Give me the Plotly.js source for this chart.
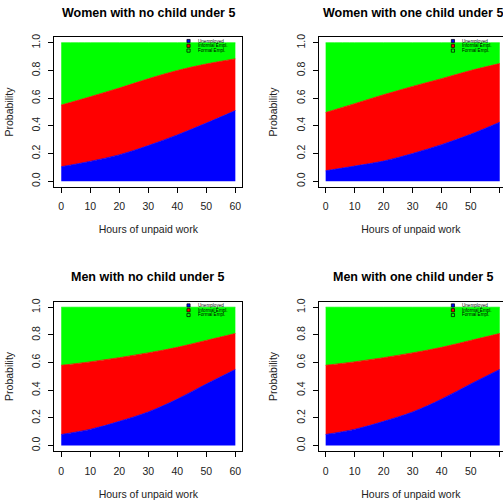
<!DOCTYPE html>
<html>
<head>
<meta charset="utf-8">
<script src="https://cdn.plot.ly/plotly-3.0.1.min.js"></script>
<style>html,body{margin:0;padding:0;background:#fff;}#chart{width:503px;height:500px;}</style>
</head>
<body>
<div id="chart"></div>
<script>
// ---- data ----
const hours = [0, 10, 20, 30, 40, 50, 60];
const categories = ["Unemployed", "Informal Empl.", "Formal Empl."];
const colors = ["#0000FF", "#FF0000", "#00FF00"];
const panelTitles = ["Women with no child under 5", "Women with one child under 5",
                     "Men with no child under 5", "Men with one child under 5"];

const womenNoChildUnemployed = [0.104, 0.143, 0.190, 0.257, 0.334, 0.420, 0.510];
const womenNoChildInformal   = [0.446, 0.467, 0.483, 0.483, 0.466, 0.427, 0.374];
const womenNoChildFormal     = [0.450, 0.390, 0.327, 0.260, 0.200, 0.153, 0.116];

const womenOneChildUnemployed = [0.075, 0.109, 0.145, 0.200, 0.264, 0.339, 0.426];
const womenOneChildInformal   = [0.421, 0.451, 0.480, 0.485, 0.477, 0.461, 0.424];
const womenOneChildFormal     = [0.504, 0.440, 0.375, 0.315, 0.259, 0.200, 0.150];

const menNoChildUnemployed = [0.080, 0.117, 0.175, 0.243, 0.336, 0.445, 0.550];
const menNoChildInformal   = [0.500, 0.488, 0.460, 0.427, 0.374, 0.315, 0.260];
const menNoChildFormal     = [0.420, 0.395, 0.365, 0.330, 0.290, 0.240, 0.190];

const menOneChildUnemployed = [0.080, 0.117, 0.175, 0.243, 0.336, 0.445, 0.550];
const menOneChildInformal   = [0.500, 0.488, 0.460, 0.427, 0.374, 0.315, 0.260];
const menOneChildFormal     = [0.420, 0.395, 0.365, 0.330, 0.290, 0.240, 0.190];

const yTickVals = [0, 0.2, 0.4, 0.6, 0.8, 1.0];
const xTickVals = [0, 10, 20, 30, 40, 50, 60];
const xTitle = "Hours of unpaid work";
const yTitle = "Probability";

const panelSeries = [
  [womenNoChildUnemployed, womenNoChildInformal, womenNoChildFormal],
  [womenOneChildUnemployed, womenOneChildInformal, womenOneChildFormal],
  [menNoChildUnemployed, menNoChildInformal, menNoChildFormal],
  [menOneChildUnemployed, menOneChildInformal, menOneChildFormal]
];

// ---- layout geometry (pixels) ----
const W = 503, H = 500;
const boxes = [{l: 54.3, t: 37.3}, {l: 318.7, t: 37.3}, {l: 54.3, t: 301.7}, {l: 318.7, t: 301.7}];
const boxW = 188, boxH = 149.4;
const xMin = -2.4, xMax = 62.4;
const FONT = "Liberation Sans, Arial, Helvetica, sans-serif";

const data = [];
const layout = {
  width: W, height: H,
  margin: {l: 0, r: 0, t: 0, b: 0},
  paper_bgcolor: "#fff", plot_bgcolor: "#fff",
  showlegend: false,
  font: {family: FONT, color: "#000", size: 10.5},
  annotations: [], shapes: []
};

boxes.forEach((b, i) => {
  const n = i + 1;
  const xa = "x" + (n === 1 ? "" : n), ya = "y" + (n === 1 ? "" : n);
  const xKey = "xaxis" + (n === 1 ? "" : n), yKey = "yaxis" + (n === 1 ? "" : n);
  const right = b.l + boxW;
  const clipped = right > W;
  const domRight = clipped ? 1 : right / W;
  const rangeRight = clipped ? xMin + (W - b.l) / boxW * (xMax - xMin) : xMax;

  panelSeries[i].forEach((vals, k) => {
    data.push({
      type: "scatter", mode: "lines", x: hours, y: vals,
      xaxis: xa, yaxis: ya, stackgroup: "s" + n,
      name: categories[k],
      line: {color: colors[k], width: 0.8, shape: "spline"},
      fillcolor: colors[k], hoverinfo: "skip"
    });
  });

  layout[xKey] = {
    domain: [b.l / W, domRight], range: [xMin, rangeRight], anchor: ya,
    showgrid: false, zeroline: false, showline: true, mirror: true,
    linecolor: "#000", linewidth: 1,
    ticks: "outside", ticklen: 5, tickcolor: "#000", tickwidth: 1,
    tickvals: xTickVals, ticklabelstandoff: 5,
    tickfont: {size: 10.5, color: "#222"},
    title: {text: xTitle, font: {size: 10.5, color: "#222"}, standoff: 14}
  };
  layout[yKey] = {
    domain: [1 - (b.t + boxH) / H, 1 - b.t / H], range: [-0.04, 1.04], anchor: xa,
    showgrid: false, zeroline: false, showline: true, mirror: !clipped,
    linecolor: "#000", linewidth: 1,
    ticks: "outside", ticklen: 5, tickcolor: "#000", tickwidth: 1,
    tickvals: yTickVals, tickformat: ".1f", tickangle: -90, ticklabelstandoff: 4,
    tickfont: {size: 10.5, color: "#222"},
    title: {text: yTitle, font: {size: 10.5, color: "#222"}, standoff: 14}
  };

  // panel title
  layout.annotations.push({
    xref: "paper", yref: "paper",
    x: (b.l + boxW / 2) / W, y: 1 - (b.t - 24.3) / H,
    text: "<b>" + panelTitles[i] + "</b>", showarrow: false,
    xanchor: "center", yanchor: "middle",
    font: {size: 12.5, color: "#000", family: FONT}
  });

  // legend (top-right inside the plot box)
  const legRows = [0.975, 0.943, 0.911];
  categories.forEach((c, k) => {
    const cx = b.l + 0.714 * boxW;
    const cy = b.t + (1 - legRows[k]) * boxH;
    const s = 1.6;
    layout.shapes.push({
      type: "rect", xref: "paper", yref: "paper",
      x0: (cx - s) / W, x1: (cx + s) / W, y0: 1 - (cy + s) / H, y1: 1 - (cy - s) / H,
      fillcolor: colors[k], line: {color: "#000", width: 0.7}
    });
    layout.annotations.push({
      xref: "paper", yref: "paper",
      x: (b.l + 0.757 * boxW) / W, y: 1 - cy / H,
      text: c, showarrow: false, xanchor: "left", yanchor: "middle",
      borderpad: 0,
      font: {size: 4.6, color: "#000", family: FONT}
    });
  });
});

Plotly.newPlot("chart", data, layout, {displayModeBar: false, staticPlot: true});
</script>
</body>
</html>
